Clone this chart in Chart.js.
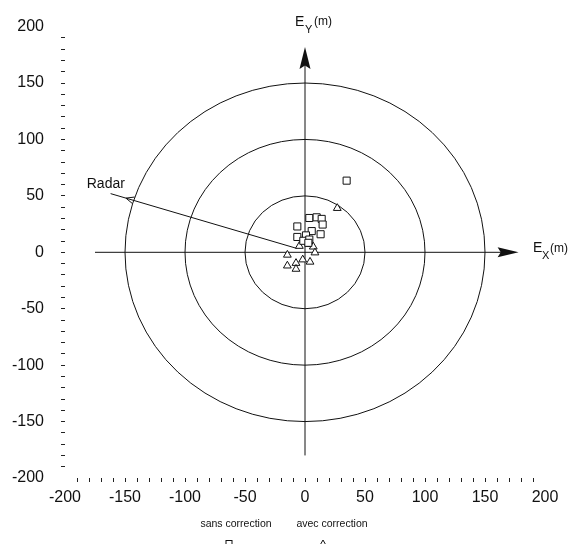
<!DOCTYPE html>
<html>
<head>
<meta charset="utf-8">
<script src="https://cdn.jsdelivr.net/npm/chart.js@4.4.1/dist/chart.umd.min.js"></script>
<style>
  html, body { margin: 0; padding: 0; background: #fff; }
</style>
</head>
<body>
<canvas id="chart" width="581" height="544"></canvas>
<script>
// sans correction (squares)
const squaresX = [34.7, 3.6, 9.7, 13.9, 14.7, -6.4, 5.6, 13.0, -6.4, 0.8, -1.4, 3.6, 2.8];
const squaresY = [63.5, 30.4, 31.0, 29.6, 24.6, 22.9, 18.8, 16.0, 13.6, 15.0, 10.2, 11.3, 8.4];
// avec correction (triangles)
const trianglesX = [26.9, -4.7, 4.2, 6.9, 8.3, -14.7, -1.9, 4.2, -7.5, -14.7, -7.5];
const trianglesY = [39.1, 5.5, 7.2, 4.9, -0.3, -2.3, -6.5, -8.5, -9.6, -11.9, -14.8];

const ringRadii = [50, 100, 150];
const axisXRange = [-175, 178];
const axisYRange = [-180, 182];
const radarFrom = [-7, 3.5];
const radarTo = [-162, 52];
const radarLabel = { text: 'Radar', x: -166, y: 60 };
const legendLabels = ['sans correction', 'avec correction'];

const FONT = "'Liberation Sans', Arial, sans-serif";
const INK = '#111';

const tickColor = (ctx) => (ctx.tick && Math.abs(ctx.tick.value) === 200) ? 'rgba(0,0,0,0)' : '#222';

function arrowHead(ctx, tx, ty, dx, dy, len, half) {
  const bx = tx - dx * len, by = ty - dy * len;
  ctx.beginPath();
  ctx.moveTo(tx, ty);
  ctx.lineTo(bx - dy * half, by + dx * half);
  ctx.lineTo(bx + dx * len * 0.15, by + dy * len * 0.15);
  ctx.lineTo(bx + dy * half, by - dx * half);
  ctx.closePath();
  ctx.fill();
}

const overlay = {
  id: 'overlay',
  beforeDatasetsDraw(chart) {
    const { ctx } = chart;
    const xs = chart.scales.x, ys = chart.scales.y;
    const cx = xs.getPixelForValue(0), cy = ys.getPixelForValue(0);
    ctx.save();
    ctx.strokeStyle = INK;
    ctx.fillStyle = INK;
    ctx.lineWidth = 1;

    ringRadii.forEach(r => {
      const rx = xs.getPixelForValue(r) - cx;
      const ry = cy - ys.getPixelForValue(r);
      ctx.beginPath();
      ctx.ellipse(cx, cy, rx, ry, 0, 0, Math.PI * 2);
      ctx.stroke();
    });

    // crosshair axes
    const xl = xs.getPixelForValue(axisXRange[0]), xr = xs.getPixelForValue(axisXRange[1]);
    ctx.beginPath();
    ctx.moveTo(xl, cy); ctx.lineTo(xr - 10, cy);
    ctx.stroke();
    arrowHead(ctx, xr, cy, 1, 0, 21, 5);

    const yb = ys.getPixelForValue(axisYRange[0]), yt = ys.getPixelForValue(axisYRange[1]);
    ctx.beginPath();
    ctx.moveTo(cx, yb); ctx.lineTo(cx, yt + 10);
    ctx.stroke();
    arrowHead(ctx, cx, yt, 0, -1, 22, 5.5);

    // radar direction
    const ax = xs.getPixelForValue(radarFrom[0]), ay = ys.getPixelForValue(radarFrom[1]);
    const bx = xs.getPixelForValue(radarTo[0]), by = ys.getPixelForValue(radarTo[1]);
    ctx.beginPath();
    ctx.moveTo(ax, ay); ctx.lineTo(bx, by);
    ctx.stroke();
    const len = Math.hypot(bx - ax, by - ay);
    const ux = (bx - ax) / len, uy = (by - ay) / len;
    const hx = bx - ux * 24, hy = by - uy * 24;
    const tipx = bx - ux * 16, tipy = by - uy * 16;
    ctx.beginPath();
    ctx.moveTo(hx - uy * 3.5, hy + ux * 3.5);
    ctx.lineTo(tipx, tipy);
    ctx.lineTo(hx + uy * 3.5, hy - ux * 3.5);
    ctx.stroke();
    ctx.restore();
  },
  afterDraw(chart) {
    const { ctx } = chart;
    const xs = chart.scales.x, ys = chart.scales.y;
    ctx.save();
    ctx.fillStyle = INK;
    ctx.strokeStyle = INK;
    ctx.lineWidth = 1;
    ctx.textBaseline = 'middle';

    // Radar label
    ctx.textAlign = 'center';
    ctx.font = `14px ${FONT}`;
    ctx.fillText(radarLabel.text, xs.getPixelForValue(radarLabel.x), ys.getPixelForValue(radarLabel.y));

    // axis names
    const cx = xs.getPixelForValue(0), cy = ys.getPixelForValue(0);
    ctx.textAlign = 'left';
    ctx.font = `14px ${FONT}`;
    ctx.fillText('E', cx - 10, 22);
    ctx.font = `11px ${FONT}`;
    ctx.fillText('Y', cx + 0, 30);
    ctx.font = `12px ${FONT}`;
    ctx.fillText('(m)', cx + 9, 22);

    const ex = xs.getPixelForValue(195);
    ctx.font = `14px ${FONT}`;
    ctx.fillText('E', ex - 6, cy - 4);
    ctx.font = `11px ${FONT}`;
    ctx.fillText('X', ex + 3, cy + 4);
    ctx.font = `12px ${FONT}`;
    ctx.fillText('(m)', ex + 11, cy - 4);

    // legend
    ctx.textAlign = 'center';
    ctx.font = `10.5px ${FONT}`;
    const centers = [236, 332];
    legendLabels.forEach((t, i) => ctx.fillText(t, centers[i], 524));
    ctx.strokeRect(centers[0] - 10, 540.5, 6, 6);
    ctx.beginPath();
    const tx = centers[1] - 9;
    ctx.moveTo(tx, 540); ctx.lineTo(tx + 4, 547); ctx.lineTo(tx - 4, 547); ctx.closePath();
    ctx.stroke();
    ctx.restore();
  }
};

const tickFont = { size: 16, family: FONT };
const labelEvery50 = (v) => (Math.round(v) % 50 === 0 ? Math.round(v) : '');

new Chart(document.getElementById('chart'), {
  type: 'scatter',
  data: {
    datasets: [
      {
        label: legendLabels[0],
        data: squaresX.map((x, i) => ({ x, y: squaresY[i] })),
        pointStyle: 'rect',
        pointRadius: 5,
        borderColor: INK,
        backgroundColor: '#fff',
        borderWidth: 1
      },
      {
        label: legendLabels[1],
        data: trianglesX.map((x, i) => ({ x, y: trianglesY[i] })),
        pointStyle: 'triangle',
        pointRadius: 4.5,
        borderColor: INK,
        backgroundColor: '#fff',
        borderWidth: 1
      }
    ]
  },
  options: {
    responsive: false,
    animation: false,
    layout: { padding: { left: 0, right: 36, top: 20, bottom: 36 } },
    plugins: {
      legend: { display: false },
      tooltip: { enabled: false }
    },
    scales: {
      x: {
        type: 'linear',
        min: -200,
        max: 200,
        afterFit: (s) => { s.height = 30; },
        border: { display: false },
        grid: { drawOnChartArea: false, tickLength: 4, color: tickColor },
        ticks: {
          stepSize: 10,
          autoSkip: false,
          maxRotation: 0,
          padding: 6,
          color: INK,
          font: tickFont,
          callback: labelEvery50
        }
      },
      y: {
        type: 'linear',
        min: -200,
        max: 200,
        afterFit: (s) => { s.width = 65; },
        border: { display: false },
        grid: { drawOnChartArea: false, tickLength: 4, color: tickColor },
        ticks: {
          stepSize: 10,
          autoSkip: false,
          padding: 17,
          color: INK,
          font: tickFont,
          callback: labelEvery50
        }
      }
    }
  },
  plugins: [overlay]
});
</script>
</body>
</html>
